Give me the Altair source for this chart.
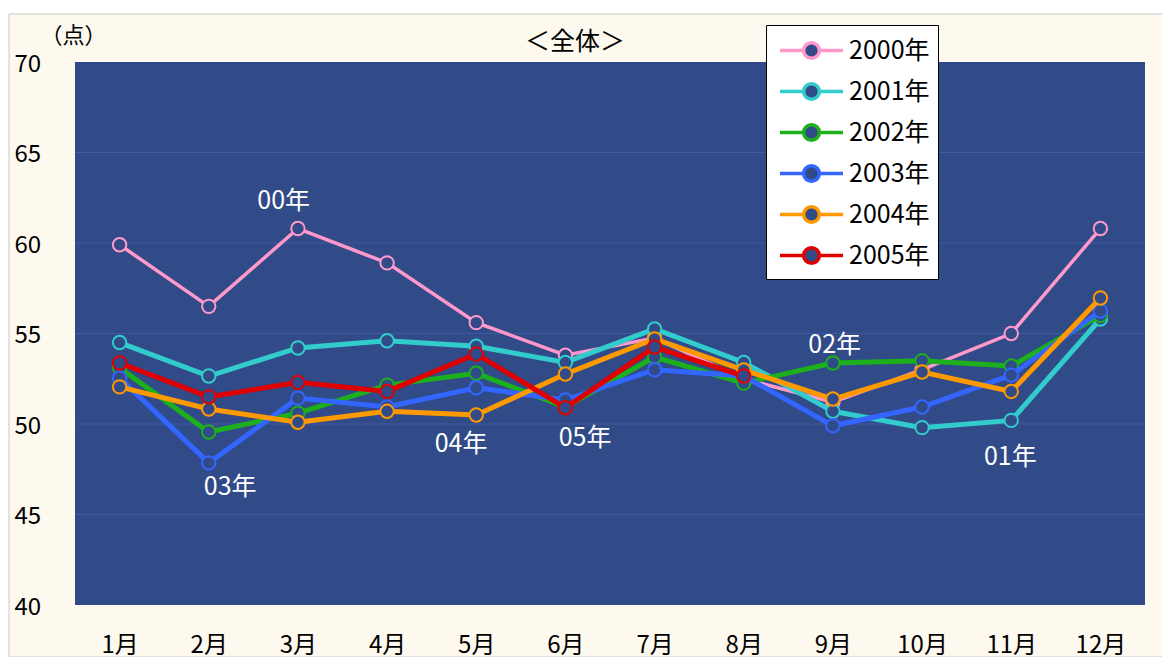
import altair as alt
import pandas as pd

months = list(range(1, 13))
years = ["2000年", "2001年", "2002年", "2003年", "2004年", "2005年"]
colors = ["#FF99CC", "#33CCCC", "#1CB01C", "#3366FF", "#FF9900", "#E00000"]

v2000 = [59.9, 56.5, 60.8, 58.9, 55.6, 53.8, 54.75, 52.5, 51.2, 53.0, 55.0, 60.8]
v2001 = [54.5, 52.65, 54.2, 54.6, 54.3, 53.4, 55.25, 53.4, 50.7, 49.8, 50.2, 55.8]
v2002 = [53.1, 49.56, 50.6, 52.15, 52.8, 50.94, 53.7, 52.26, 53.37, 53.5, 53.2, 56.0]
v2003 = [52.55, 47.85, 51.43, 50.94, 52.0, 51.33, 53.0, 52.65, 49.9, 50.94, 52.7, 56.24]
v2004 = [52.05, 50.83, 50.1, 50.7, 50.5, 52.76, 54.7, 52.98, 51.38, 52.87, 51.8, 56.96]
v2005 = [53.37, 51.5, 52.3, 51.8, 53.87, 50.9, 54.25, 52.65]
series = [v2000, v2001, v2002, v2003, v2004, v2005]

y_ticks = [40, 45, 50, 55, 60, 65, 70]
grid_vals = [45, 50, 55, 60, 65]

ann_text = ["00年", "03年", "04年", "05年", "02年", "01年"]
ann_month = [2.84, 2.24, 4.83, 6.22, 9.02, 10.99]
ann_value = [62.32, 46.52, 48.9, 49.25, 54.36, 48.18]

title_text = "＜全体＞"

rows = []
for yname, vals in zip(years, series):
    for m, v in zip(months, vals):
        rows.append({"year": yname, "month": m, "value": v})
df = pd.DataFrame(rows)
ann_df = pd.DataFrame({"text": ann_text, "month": ann_month, "value": ann_value})
grid_df = pd.DataFrame({"value": grid_vals})
one = pd.DataFrame({"a": [0]})

FONT = "Noto Sans CJK JP"
W, H = 1070, 543
BG = "#314A88"
CREAM = "#FEF9EE"

x_scale = alt.Scale(domain=[0.5, 12.5], nice=False, zero=False)
y_scale = alt.Scale(domain=[40, 70], nice=False, zero=False)
color_scale = alt.Scale(domain=years, range=colors)

x_axis = alt.Axis(values=months, labelExpr="datum.value + '月'", title=None, grid=False,
                  ticks=False, tickSize=0, domain=False, labelFont=FONT, labelFontSize=24,
                  labelColor="black", labelPadding=28, zindex=1)
y_axis = alt.Axis(values=y_ticks, title="（点）", titleAngle=0, titleX=-2, titleY=-27,
                  titleAlign="center", titleBaseline="middle", titleFont=FONT,
                  titleFontSize=22, titleFontWeight="normal", titleColor="black",
                  grid=False, ticks=False, tickSize=0, domain=False, labelFont=FONT,
                  labelFontSize=24, labelColor="black", labelAlign="left",
                  labelPadding=61, labelOffset=2, zindex=1)

X = alt.X("month:Q", scale=x_scale, axis=x_axis)
Y = alt.Y("value:Q", scale=y_scale, axis=y_axis)

SYM = "M -2 0 L -0.5 0 M 0.5 0 L 2 0 M 0.5 0 A 0.5 0.5 0 1 1 -0.5 0 A 0.5 0.5 0 1 1 0.5 0 Z"
legend = alt.Legend(title=None, orient="none", legendX=691, legendY=-37, fillColor="white",
                    strokeColor="black", padding=8, symbolType=SYM, symbolSize=992,
                    symbolStrokeWidth=3.5, symbolFillColor=BG, symbolOffset=20,
                    labelOffset=20, labelFont=FONT, labelFontSize=25, labelColor="black",
                    rowPadding=8, zindex=1)

cream = alt.Chart(one).mark_rect(fill=CREAM, stroke="#C8C8C8", strokeWidth=1).encode(
    x=alt.value(-66), x2=alt.value(1170 - 75), y=alt.value(-48), y2=alt.value(657 - 62))
plotbg = alt.Chart(one).mark_rect(fill=BG).encode(
    x=alt.value(0), x2=alt.value(W), y=alt.value(0), y2=alt.value(H))
grid = alt.Chart(grid_df).mark_rule(color="#4059A2", strokeWidth=1).encode(y=Y)
title = alt.Chart(one).mark_text(text=title_text, font=FONT, fontSize=25, color="black",
                                 baseline="middle", align="center").encode(
    x=alt.value(500), y=alt.value(-20))

layers = [cream, plotbg, grid, title]
for i, yname in enumerate(years):
    base = alt.Chart(df).transform_filter(alt.datum.year == yname)
    S = alt.Stroke("year:N", scale=color_scale, legend=legend)
    line = base.mark_line(strokeWidth=3.5 if i == 0 else 5).encode(x=X, y=Y, stroke=S)
    pts = base.mark_point(shape="circle", filled=True, fill=BG, size=180, strokeWidth=2,
                          opacity=1).encode(x=X, y=Y, stroke=S)
    layers += [line, pts]

ann = alt.Chart(ann_df).mark_text(color="white", font=FONT, fontSize=25,
                                  baseline="middle").encode(x=X, y=Y, text="text:N")
layers.append(ann)

chart = alt.layer(*layers).properties(
    width=W, height=H,
    autosize=alt.AutoSizeParams(type="none"),
    padding={"left": 67, "top": 54, "right": 17, "bottom": 54},
).configure(background="white").configure_view(stroke=None)

chart.save("out.html", embed_options={"renderer": "svg", "actions": False})
